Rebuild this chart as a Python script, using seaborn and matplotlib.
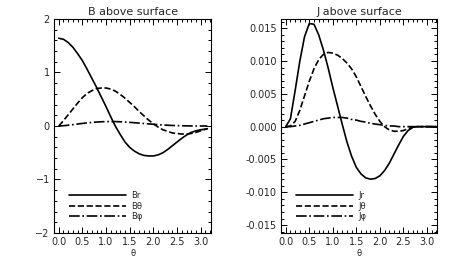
import matplotlib
matplotlib.use('Agg')
import matplotlib.pyplot as plt
import seaborn as sns
from matplotlib.ticker import MultipleLocator, FormatStrFormatter

# --- data ---
theta_b = [0.0, 0.1, 0.2, 0.3, 0.4, 0.5, 0.6, 0.7, 0.8, 0.9, 1.0, 1.1, 1.2, 1.3,
           1.4, 1.5, 1.6, 1.7, 1.8, 1.9, 2.0, 2.1, 2.2, 2.3, 2.4, 2.5, 2.6, 2.7,
           2.8, 2.9, 3.0, 3.1, 3.14]
b_r = [1.64, 1.62, 1.56, 1.47, 1.35, 1.22, 1.06, 0.89, 0.72, 0.54, 0.36, 0.17,
       -0.01, -0.16, -0.30, -0.40, -0.47, -0.52, -0.55, -0.56, -0.56, -0.54,
       -0.50, -0.44, -0.37, -0.30, -0.23, -0.17, -0.12, -0.09, -0.07, -0.06, -0.05]
b_theta = [0.0, 0.10, 0.21, 0.32, 0.43, 0.53, 0.61, 0.66, 0.70, 0.71, 0.71, 0.69,
           0.65, 0.59, 0.52, 0.44, 0.36, 0.27, 0.19, 0.11, 0.04, -0.02, -0.07,
           -0.10, -0.13, -0.14, -0.15, -0.15, -0.14, -0.12, -0.09, -0.06, -0.05]
b_phi = [0.0, 0.005, 0.015, 0.025, 0.037, 0.048, 0.058, 0.067, 0.074, 0.079,
         0.082, 0.083, 0.082, 0.079, 0.074, 0.068, 0.061, 0.054, 0.046, 0.039,
         0.032, 0.025, 0.019, 0.014, 0.010, 0.007, 0.004, 0.002, 0.001, 0.0,
         0.0, 0.0, 0.0]

theta_j = [0.0, 0.1, 0.2, 0.3, 0.4, 0.5, 0.6, 0.7, 0.8, 0.9, 1.0, 1.1, 1.2, 1.3,
           1.4, 1.5, 1.6, 1.7, 1.8, 1.9, 2.0, 2.1, 2.2, 2.3, 2.4, 2.5, 2.6, 2.7,
           2.8, 2.9, 3.0, 3.1, 3.2]
j_r = [0.0, 0.0012, 0.0055, 0.0100, 0.0137, 0.0157, 0.0156, 0.0140, 0.0117,
       0.0090, 0.0060, 0.0032, 0.0004, -0.0023, -0.0045, -0.0062, -0.0072,
       -0.0078, -0.0080, -0.0079, -0.0075, -0.0067, -0.0056, -0.0042, -0.0028,
       -0.0015, -0.0006, -0.0001, 0.0, 0.0, 0.0, 0.0, 0.0]
j_theta = [0.0, 0.0001, 0.0008, 0.0025, 0.0047, 0.0069, 0.0088, 0.0102, 0.0110,
           0.0113, 0.0112, 0.0109, 0.0104, 0.0097, 0.0088, 0.0076, 0.0061,
           0.0046, 0.0032, 0.0019, 0.0008, 0.0000, -0.0005, -0.0007, -0.0007,
           -0.0006, -0.0003, -0.0001, 0.0, 0.0, 0.0, 0.0, 0.0]
j_phi = [0.0, 0.0, 0.0001, 0.0002, 0.0004, 0.0006, 0.0008, 0.0010, 0.0012,
         0.0013, 0.0014, 0.0014, 0.0014, 0.0013, 0.0011, 0.0010, 0.0008, 0.0007,
         0.0005, 0.0004, 0.0003, 0.0002, 0.0001, 0.0001, 0.0, 0.0, 0.0, 0.0,
         0.0, 0.0, 0.0, 0.0, 0.0]

b_labels = ['Br', 'B\u03b8', 'B\u03c6']
j_labels = ['Jr', 'J\u03b8', 'J\u03c6']
styles = ['-', '--', '-.']

sns.set_style('ticks')
plt.rcParams['font.family'] = ['DejaVu Sans']
plt.rcParams['xtick.direction'] = 'in'
plt.rcParams['ytick.direction'] = 'in'

fig = plt.figure(figsize=(4.54, 2.73), dpi=100)
ax1 = fig.add_axes([0.119, 0.1465, 0.346, 0.784])
ax2 = fig.add_axes([0.619, 0.1465, 0.344, 0.784])


def draw_panel(ax, x, series, labels, title):
    for y, lab, ls in zip(series, labels, styles):
        sns.lineplot(x=x, y=y, ax=ax, color='black', linewidth=1.2,
                     linestyle=ls, label=lab)
    ax.set_title(title, fontsize=8, pad=3)
    ax.set_xlabel('\u03b8', fontsize=6, labelpad=1)
    ax.set_ylabel('')
    ax.set_xlim(-0.1, 3.22)
    ax.xaxis.set_major_locator(MultipleLocator(0.5))
    ax.xaxis.set_minor_locator(MultipleLocator(0.1))
    ax.xaxis.set_major_formatter(FormatStrFormatter('%.1f'))
    ax.tick_params(which='both', top=True, right=True, labelsize=7,
                   width=0.7, color='black')
    ax.tick_params(which='major', length=4, pad=3)
    ax.tick_params(which='minor', length=2)
    for sp in ax.spines.values():
        sp.set_linewidth(0.8)
        sp.set_color('black')
    ax.legend(loc='lower left', bbox_to_anchor=(0.06, 0.03), frameon=False,
              fontsize=6, handlelength=6.8, handletextpad=0.6,
              labelspacing=0.15, borderpad=0.2)


draw_panel(ax1, theta_b, [b_r, b_theta, b_phi], b_labels, 'B above surface')
ax1.set_ylim(-2, 2)
ax1.yaxis.set_major_locator(MultipleLocator(1))
ax1.yaxis.set_minor_locator(MultipleLocator(0.2))

draw_panel(ax2, theta_j, [j_r, j_theta, j_phi], j_labels, 'J above surface')
ax2.set_ylim(-0.0162, 0.0164)
ax2.yaxis.set_major_locator(MultipleLocator(0.005))
ax2.yaxis.set_minor_locator(MultipleLocator(0.001))
ax2.yaxis.set_major_formatter(FormatStrFormatter('%.3f'))

fig.savefig('out.png', dpi=100)
